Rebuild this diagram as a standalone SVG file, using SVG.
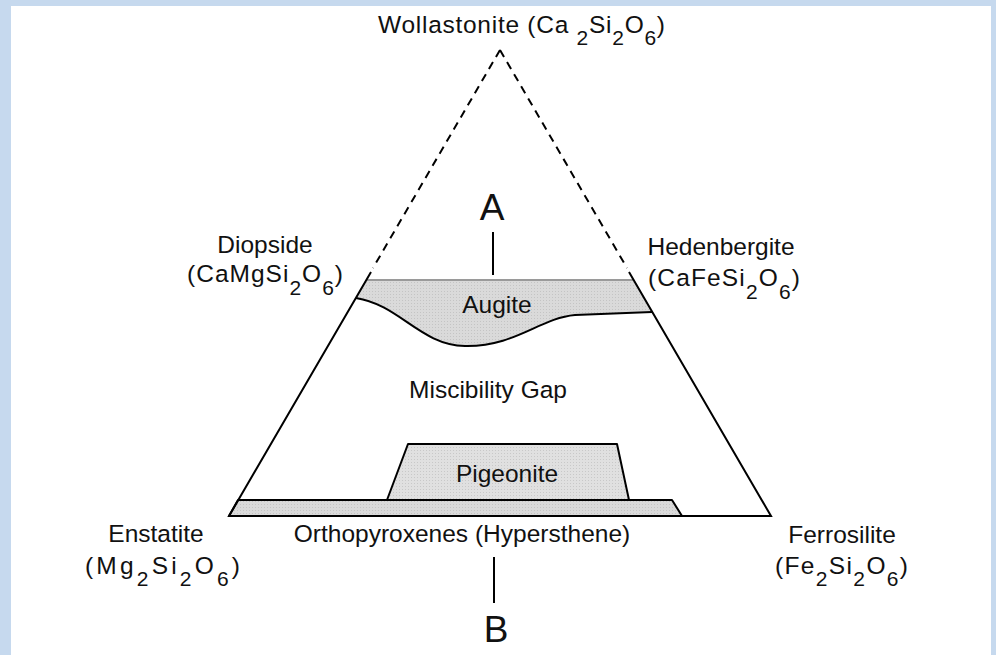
<svg xmlns="http://www.w3.org/2000/svg" width="996" height="655" viewBox="0 0 996 655">
  <defs>
    <pattern id="dots" width="3" height="3" patternUnits="userSpaceOnUse">
      <rect width="3" height="3" fill="#dadada"/>
      <rect width="1" height="1" fill="#c4c4c4"/>
    </pattern>
    <pattern id="dots2" width="3" height="3" patternUnits="userSpaceOnUse">
      <rect width="3" height="3" fill="#e0e0e0"/>
      <rect width="1" height="1" fill="#c8c8c8"/>
    </pattern>
  </defs>
  <style>
    text { font-family: "Liberation Sans", Arial, Helvetica, sans-serif; fill: #111; }
    .lbl { font-size: 24.5px; }
    .big { font-size: 37px; }
    .sub { font-size: 21px; }
    .edge { stroke: #000; stroke-width: 2; fill: none; }
    .dash { stroke: #000; stroke-width: 2; fill: none; stroke-dasharray: 8 6; }
    .region { stroke: #000; stroke-width: 2; stroke-linejoin: round; }
  </style>

  <rect x="0" y="0" width="996" height="655" fill="#c6d9ee"/>
  <rect x="11" y="6" width="980" height="649" fill="#ffffff"/>

  <g id="regions">
    <g id="augite">
      <path d="M366,280 L634,280 L652,312 L575,315 C540,318 515,347 465,346 C420,345 400,305 356,298 Z" fill="url(#dots)" stroke="none"/>
      <line x1="366" y1="280" x2="634" y2="280" stroke="#9a9a9a" stroke-width="2"/>
      <path d="M356,298 C400,305 420,345 465,346 C515,347 540,318 575,315 L652,312" class="edge"/>
      <text class="lbl" x="497" y="313" text-anchor="middle">Augite</text>
    </g>
    <g id="pigeonite">
      <polygon points="408,444 617,444 629,500 387,500" fill="url(#dots2)" class="region"/>
      <text class="lbl" x="507" y="482" text-anchor="middle">Pigeonite</text>
    </g>
    <g id="orthopyroxenes">
      <polygon points="238,500 672,500 682,516 229,516" fill="url(#dots)" class="region"/>
      <text class="lbl" x="462" y="542" text-anchor="middle">Orthopyroxenes (Hypersthene)</text>
    </g>
    <g id="miscibility-gap">
      <text class="lbl" x="488" y="398" text-anchor="middle">Miscibility Gap</text>
    </g>
  </g>

  <g id="triangle">
    <line class="dash" x1="500" y1="50" x2="373" y2="268"/>
    <line class="dash" x1="500" y1="50" x2="627" y2="268"/>
    <polyline class="edge" points="371,272 229,516 771,516 629,272" stroke-linejoin="miter"/>
  </g>

  <g id="wollastonite">
    <text class="lbl" x="378" y="33" textLength="287" lengthAdjust="spacing">Wollastonite (Ca <tspan class="sub" dy="12">2</tspan><tspan dy="-12">Si</tspan><tspan class="sub" dy="12">2</tspan><tspan dy="-12">O</tspan><tspan class="sub" dy="12">6</tspan><tspan dy="-12">)</tspan></text>
  </g>
  <g id="diopside">
    <text class="lbl" x="265" y="253" text-anchor="middle">Diopside</text>
    <text class="lbl" x="187" y="282" textLength="156" lengthAdjust="spacing">(CaMgSi<tspan class="sub" dy="13">2</tspan><tspan dy="-13">O</tspan><tspan class="sub" dy="13">6</tspan><tspan dy="-13">)</tspan></text>
  </g>
  <g id="hedenbergite">
    <text class="lbl" x="721" y="255" text-anchor="middle">Hedenbergite</text>
    <text class="lbl" x="648" y="286" textLength="152" lengthAdjust="spacing">(CaFeSi<tspan class="sub" dy="13">2</tspan><tspan dy="-13">O</tspan><tspan class="sub" dy="13">6</tspan><tspan dy="-13">)</tspan></text>
  </g>
  <g id="enstatite">
    <text class="lbl" x="156" y="542" text-anchor="middle">Enstatite</text>
    <text class="lbl" x="85" y="574" textLength="155" lengthAdjust="spacing">(Mg<tspan class="sub" dy="12">2</tspan><tspan dy="-12">Si</tspan><tspan class="sub" dy="12">2</tspan><tspan dy="-12">O</tspan><tspan class="sub" dy="12">6</tspan><tspan dy="-12">)</tspan></text>
  </g>
  <g id="ferrosilite">
    <text class="lbl" x="842" y="543" text-anchor="middle">Ferrosilite</text>
    <text class="lbl" x="775" y="574" textLength="133" lengthAdjust="spacing">(Fe<tspan class="sub" dy="12">2</tspan><tspan dy="-12">Si</tspan><tspan class="sub" dy="12">2</tspan><tspan dy="-12">O</tspan><tspan class="sub" dy="12">6</tspan><tspan dy="-12">)</tspan></text>
  </g>

  <g id="marker-A">
    <text class="big" x="492" y="220" text-anchor="middle">A</text>
  </g>
  <g id="marker-B">
    <text class="big" x="496" y="642" text-anchor="middle">B</text>
  </g>

  <g id="connectors">
    <line class="edge" x1="493" y1="232" x2="493" y2="275"/>
    <line class="edge" x1="494" y1="557" x2="494" y2="603"/>
  </g>
</svg>
